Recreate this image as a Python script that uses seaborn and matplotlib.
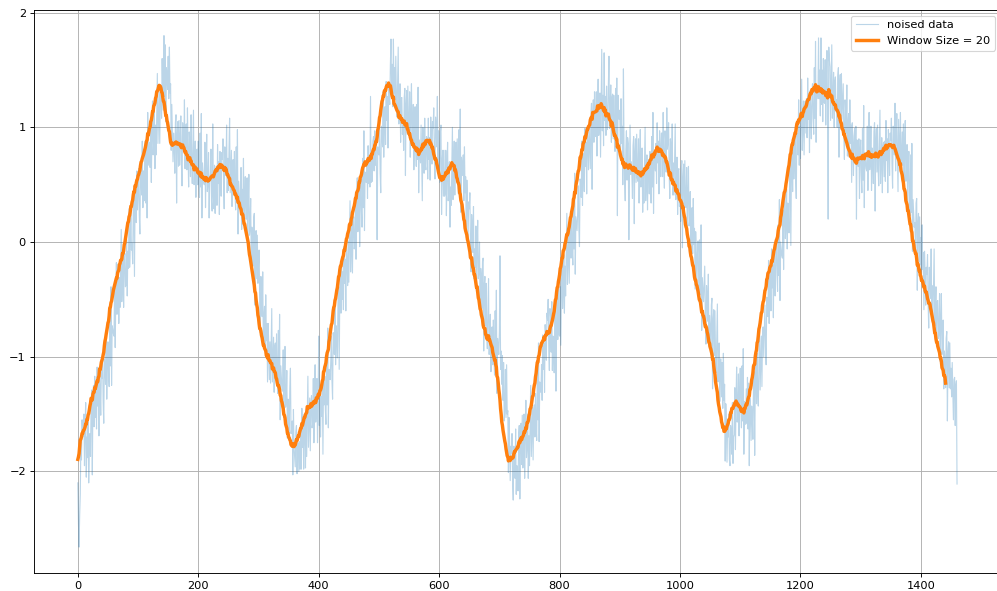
import numpy as np
import pandas as pd
import matplotlib
matplotlib.use("Agg")
import matplotlib.pyplot as plt
import seaborn as sns

WINDOW = 20

# daily observations (one value per day)
noised = [
    -2.10, -2.45, -2.66, -2.38, -2.20, -1.75, -1.90, -1.55, -1.70, -1.62,
    -1.50, -1.95, -1.62, -1.40, -2.05, -1.70, -1.88, -1.55, -2.10, -1.84,
    -1.67, -1.87, -1.39, -1.29, -2.03, -1.39, -1.25, -1.61, -1.17, -1.53,
    -1.29, -1.63, -1.09, -1.43, -1.23, -1.69, -1.13, -1.27, -1.51, -1.13,
    -1.19, -0.99, -1.39, -1.58, -1.02, -1.08, -1.24, -0.78, -1.37, -1.05,
    -0.87, -1.15, -1.26, -0.66, -1.08, -0.39, -1.25, -0.73, -0.76, -0.80,
    -0.82, -0.40, -0.92, -0.48, -0.18, -0.63, -0.51, -0.19, -0.71, -0.31,
    -0.57, -0.20, 0.11, -0.52, -0.33, -0.10, -0.57, -0.16, -0.10, -0.39,
    -0.37, 0.02, -0.47, -0.08, -0.23, 0.29, -0.22, -0.03, 0.26, -0.07,
    -0.01, -0.19, 0.30, 0.42, -0.30, 0.35, 0.51, 0.17, 0.62, 0.28,
    0.44, 0.64, 0.24, 0.07, 0.63, 0.57, 0.41, 0.88, 0.30, 0.62,
    0.36, 0.70, 0.88, 0.34, 0.82, 0.21, 1.13, 0.67, 0.77, 0.87,
    0.65, 1.06, 0.52, 0.95, 1.23, 0.76, 0.87, 1.17, 0.64, 1.02,
    0.76, 1.15, 1.47, 0.86, 1.07, 1.31, 0.86, 1.29, 1.35, 1.08,
    1.60, 1.30, 1.15, 1.80, 1.27, 1.72, 1.05, 1.52, 1.45, 1.33,
    1.62, 1.25, 1.70, 1.30, 1.38, 0.80, 1.20, 0.95, 0.70, 0.95,
    0.83, 0.60, 1.04, 1.11, 0.34, 0.94, 1.05, 0.66, 1.06, 0.67,
    0.91, 1.10, 0.68, 0.49, 1.04, 0.96, 0.79, 1.24, 0.64, 0.95,
    1.03, 0.63, 1.17, 0.76, 0.48, 0.96, 0.86, 0.57, 1.11, 0.73,
    0.51, 0.86, 1.15, 0.50, 0.67, 0.88, 0.39, 0.78, 0.81, 0.50,
    0.88, 0.56, 0.39, 0.95, 0.48, 1.12, 0.21, 0.69, 0.60, 0.52,
    0.50, 0.87, 0.30, 0.69, 0.94, 0.44, 0.51, 0.78, 0.21, 0.56,
    0.59, 0.81, 0.35, 0.27, 1.03, 0.41, 0.29, 0.67, 0.25, 0.62,
    0.66, 0.32, 0.85, 0.51, 0.70, 0.24, 0.79, 0.65, 0.40, 0.78,
    0.72, 0.90, 0.49, 0.29, 0.83, 0.76, 0.58, 1.02, 0.43, 0.73,
    0.45, 0.80, 1.08, 0.43, 0.60, 0.80, 0.31, 0.70, 0.72, 0.41,
    0.79, 0.46, 0.28, 0.83, 0.35, 0.98, 0.07, 0.53, 0.44, 0.34,
    0.30, 0.65, 0.11, 0.46, 0.27, 0.73, 0.18, 0.33, 0.57, 0.20,
    0.20, 0.56, -0.03, 0.35, 0.59, 0.06, 0.12, 0.38, -0.21, 0.13,
    0.05, -0.21, 0.21, 0.25, -0.55, 0.02, 0.10, -0.32, 0.06, -0.36,
    -0.20, -0.07, -0.54, -0.79, -0.30, -0.42, -0.65, -0.26, -0.91, -0.66,
    -0.56, -0.95, -0.46, -0.86, -0.71, -1.22, -0.71, -0.90, -1.20, -0.87,
    -1.23, -0.88, -0.58, -1.22, -1.04, -0.83, -1.31, -0.91, -0.88, -1.18,
    -0.80, -1.14, -1.32, -0.77, -1.25, -0.63, -1.55, -1.08, -1.18, -1.28,
    -1.30, -0.94, -1.53, -1.15, -0.91, -1.44, -1.38, -1.12, -1.71, -1.37,
    -1.45, -1.66, -1.27, -1.10, -1.67, -1.63, -1.56, -2.03, -1.46, -1.79,
    -1.88, -1.96, -1.66, -1.60, -2.02, -1.76, -1.75, -2.00, -1.74, -1.98,
    -1.64, -1.98, -1.45, -1.79, -1.59, -1.98, -1.50, -1.64, -1.97, -1.51,
    -1.87, -1.49, -1.17, -1.79, -1.59, -1.36, -1.82, -1.40, -1.34, -1.62,
    -1.58, -1.19, -1.75, -1.34, -1.07, -1.57, -1.48, -1.19, -1.75, -1.38,
    -0.82, -1.60, -1.30, -1.70, -1.35, -1.52, -1.25, -1.85, -1.18, -1.42,
    -1.17, -1.46, -1.59, -0.99, -1.42, -0.75, -1.62, -1.11, -1.15, -1.20,
    -1.04, -0.82, -1.21, -1.37, -0.79, -0.84, -0.98, -0.50, -1.07, -0.73,
    -0.83, -1.01, -0.51, -0.39, -1.11, -0.44, -0.28, -0.62, -0.16, -0.50,
    -0.26, -0.59, -0.04, -0.36, -0.15, -0.60, -0.03, -0.16, -0.38, 0.01,
    -0.35, 0.03, 0.36, -0.26, -0.06, 0.19, -0.27, 0.15, 0.22, -0.06,
    -0.02, 0.39, -0.15, 0.28, 0.56, 0.09, 0.19, 0.50, -0.04, 0.35,
    0.55, 0.26, 0.13, 0.73, 0.30, 0.97, 0.10, 0.61, 0.57, 0.52,
    0.72, 0.38, 0.84, 0.51, 0.72, 0.48, 1.27, 0.52, 0.77, 0.53,
    0.88, 0.92, 0.62, 0.97, 0.67, 0.90, 0.60, 0.02, 0.83, 0.77,
    0.76, 0.98, 0.60, 0.43, 1.01, 0.97, 0.83, 1.31, 0.74, 1.08,
    1.18, 0.85, 1.40, 1.06, 1.27, 0.82, 1.39, 1.26, 1.20, 1.55,
    1.77, 1.32, 1.55, 1.18, 1.77, 1.30, 1.52, 1.24, 1.62, 1.26,
    1.09, 1.42, 1.70, 1.03, 1.19, 1.38, 0.87, 1.25, 1.26, 0.94,
    1.04, 0.80, 1.26, 1.34, 0.58, 1.20, 1.32, 0.94, 1.36, 0.98,
    0.94, 1.31, 0.74, 1.13, 1.38, 0.86, 0.93, 1.20, 0.63, 0.98,
    1.18, 0.84, 0.66, 1.20, 0.72, 1.35, 0.43, 0.89, 0.79, 0.69,
    1.02, 0.66, 0.36, 1.00, 0.82, 0.60, 1.08, 0.67, 0.63, 0.92,
    0.90, 0.55, 1.08, 0.72, 0.91, 0.54, 1.09, 0.93, 0.68, 1.05,
    0.99, 1.17, 0.75, 0.55, 1.09, 1.01, 0.83, 1.27, 0.67, 0.97,
    0.76, 0.52, 0.96, 1.02, 0.24, 0.70, 0.80, 0.40, 0.80, 0.40,
    0.43, 0.80, 0.23, 0.62, 0.87, 0.36, 0.43, 0.70, 0.13, 0.48,
    0.32, 0.69, 1.00, 0.37, 0.66, 0.88, 0.41, 0.82, 0.87, 0.58,
    0.90, 0.58, 0.42, 0.98, 0.52, 1.16, 0.26, 0.74, 0.66, 0.58,
    0.76, 0.36, 0.83, 0.43, 0.57, 0.04, 0.54, 0.34, 0.03, 0.35,
    0.29, 0.43, -0.02, -0.26, 0.24, 0.13, -0.09, 0.31, -0.32, -0.06,
    -0.22, 0.14, -0.43, -0.05, 0.19, -0.32, -0.26, 0.00, -0.57, -0.23,
    -0.31, -0.58, -0.17, -0.14, -0.95, -0.37, -0.30, -0.73, -0.36, -0.79,
    -0.93, -0.59, -0.32, -0.98, -0.83, -0.63, -1.13, -0.76, -0.74, -1.07,
    -0.68, -1.00, -1.16, -0.60, -1.06, -0.42, -1.32, -0.84, -0.92, -0.98,
    -0.78, -0.12, -1.11, -0.95, -1.24, -0.99, -1.38, -1.05, -1.56, -1.47,
    -1.11, -1.53, -1.07, -1.50, -1.47, -2.01, -1.53, -1.76, -2.08, -1.78,
    -1.84, -1.67, -2.10, -2.25, -1.78, -1.87, -2.06, -1.63, -2.20, -1.95,
    -1.96, -2.17, -1.69, -1.60, -2.24, -1.71, -1.58, -1.94, -1.51, -1.97,
    -1.89, -1.50, -2.06, -1.65, -1.38, -1.88, -1.79, -1.50, -2.06, -1.69,
    -1.95, -1.57, -1.25, -1.87, -1.67, -1.44, -1.90, -1.48, -1.42, -1.70,
    -1.32, -1.60, -1.73, -1.13, -1.55, -0.88, -1.74, -1.22, -1.27, -1.31,
    -1.07, -1.38, -0.81, -1.11, -0.88, -1.31, -0.72, -0.82, -1.03, -0.62,
    -0.68, -0.50, -0.92, -1.12, -0.58, -0.66, -0.96, -0.52, -1.12, -0.82,
    -0.93, -1.14, -0.68, -0.59, -1.30, -0.72, -0.48, -0.85, -0.41, -0.80,
    -0.82, -0.39, -0.90, -0.44, -0.13, -0.58, -0.45, -0.11, -0.62, -0.21,
    -0.47, -0.08, 0.25, -0.37, -0.16, 0.09, -0.36, 0.06, 0.13, -0.14,
    0.24, -0.06, -0.20, 0.38, -0.06, 0.60, -0.28, 0.22, 0.16, 0.10,
    0.26, 0.49, 0.12, -0.04, 0.55, 0.52, 0.39, 0.88, 0.32, 0.67,
    0.77, 0.44, 0.99, 0.66, 0.87, 0.42, 0.99, 0.86, 0.63, 1.02,
    0.84, 0.64, 1.11, 1.21, 0.46, 1.10, 1.24, 0.87, 1.31, 0.94,
    0.92, 1.31, 0.75, 1.16, 1.42, 0.93, 1.01, 1.30, 0.74, 1.18,
    1.68, 0.97, 1.28, 0.84, 1.65, 1.06, 1.27, 0.93, 1.36, 0.98,
    1.01, 1.36, 1.62, 0.99, 1.16, 1.37, 0.87, 1.26, 1.29, 0.90,
    1.28, 0.95, 0.79, 1.34, 0.88, 1.43, 0.23, 1.28, 1.10, 1.07,
    1.15, 0.76, 1.25, 0.86, 1.01, 0.50, 1.51, 0.82, 0.53, 0.36,
    0.80, 0.97, 0.54, 0.91, 0.86, 0.02, 0.59, 1.02, 0.59, 0.70,
    0.60, 0.38, 0.84, 0.92, 0.16, 0.78, 0.90, 0.52, 0.94, 0.56,
    0.53, 0.90, 0.34, 0.73, 0.98, 0.48, 0.55, 0.82, 0.26, 0.61,
    0.34, 0.70, 1.00, 0.36, 0.54, 0.76, 0.28, 0.68, 0.72, 0.42,
    0.79, 0.49, 0.34, 0.92, 0.48, 1.13, 0.25, 0.75, 0.68, 0.62,
    0.86, 0.51, 1.04, 0.69, 0.88, 0.42, 0.97, 0.82, 0.57, 0.95,
    0.95, 0.57, 1.13, 0.73, 0.47, 0.97, 0.89, 0.61, 1.17, 0.81,
    0.88, 1.04, 0.60, 0.38, 0.90, 0.81, 0.61, 1.03, 0.41, 0.69,
    0.41, 0.75, 1.03, 0.37, 0.53, 0.74, 0.24, 0.62, 0.64, 0.31,
    0.41, 0.18, 0.64, 0.71, -0.05, 0.56, 0.68, 0.29, 0.71, 0.32,
    0.30, 0.65, 0.06, 0.43, 0.66, 0.14, 0.19, 0.44, -0.15, 0.18,
    0.30, -0.10, 0.38, -0.02, 0.12, -0.41, 0.09, -0.11, -0.41, -0.09,
    0.01, -0.33, -0.52, 0.02, -0.46, 0.15, -0.77, -0.31, -0.42, -0.52,
    -0.36, -0.21, -0.66, -0.89, -0.38, -0.48, -0.69, -0.28, -0.91, -0.64,
    -0.74, -0.98, -0.55, -0.49, -1.28, -0.68, -0.59, -0.99, -0.60, -1.00,
    -1.14, -0.81, -0.54, -1.22, -1.07, -0.88, -1.39, -1.02, -1.02, -1.35,
    -1.05, -1.45, -0.97, -1.38, -1.24, -1.91, -1.41, -1.61, -1.92, -1.60,
    -1.70, -1.50, -1.90, -1.95, -1.60, -1.66, -1.85, -1.40, -1.93, -1.70,
    -1.68, -1.27, -1.81, -1.38, -1.09, -1.57, -1.46, -1.15, -1.69, -1.30,
    -1.10, -1.44, -1.62, -1.08, -1.56, -0.93, -1.85, -1.39, -1.49, -1.59,
    -1.28, -1.58, -1.18, -1.63, -1.23, -1.95, -1.36, -1.43, -1.73, -1.43,
    -1.53, -1.72, -1.23, -1.13, -1.86, -1.21, -1.06, -1.41, -0.97, -1.32,
    -1.43, -1.03, -0.69, -1.29, -1.07, -0.82, -1.26, -0.82, -0.74, -1.00,
    -0.78, -0.55, -0.92, -1.07, -0.48, -0.52, -0.65, -0.16, -0.71, -0.36,
    -0.26, -0.60, -0.06, -0.40, -0.20, -0.66, -0.10, -0.23, -0.47, -0.09,
    0.01, -0.29, -0.43, 0.15, -0.29, 0.37, -0.51, 0.00, -0.06, -0.12,
    -0.14, 0.28, -0.24, 0.19, 0.49, 0.03, 0.15, 0.46, -0.06, 0.34,
    0.26, 0.08, 0.57, 0.69, -0.03, 0.62, 0.78, 0.44, 0.89, 0.55,
    0.71, 0.93, 0.54, 0.38, 0.95, 0.91, 0.76, 1.24, 0.67, 1.01,
    0.73, 1.11, 1.42, 0.80, 0.99, 1.23, 0.76, 1.18, 1.23, 0.95,
    1.25, 0.91, 1.43, 1.07, 1.25, 0.78, 1.32, 1.16, 0.90, 1.28,
    1.38, 1.08, 0.94, 1.52, 1.08, 1.75, 0.87, 1.37, 1.31, 1.25,
    1.78, 1.25, 1.50, 1.10, 1.78, 1.20, 1.50, 1.05, 1.60, 1.22,
    1.21, 1.59, 1.02, 1.42, 1.67, 1.17, 0.20, 1.70, 1.59, 1.53,
    1.06, 1.42, 1.72, 1.08, 1.26, 1.48, 1.00, 1.40, 1.44, 1.14,
    1.24, 1.00, 1.45, 1.52, 0.74, 1.35, 1.46, 1.06, 1.47, 1.07,
    1.22, 1.38, 0.94, 0.72, 1.24, 1.15, 0.95, 1.37, 0.75, 1.03,
    1.12, 0.74, 1.24, 0.86, 1.02, 0.52, 1.04, 0.86, 0.58, 0.92,
    0.99, 0.68, 1.01, 0.20, 0.89, 0.82, 0.66, 0.90, 0.38, 0.77,
    0.89, 0.58, 0.43, 0.99, 0.54, 1.19, 0.30, 0.78, 0.71, 0.64,
    0.62, 1.01, 0.45, 0.86, 1.13, 0.63, 0.72, 1.01, 0.45, 0.82,
    0.74, 0.51, 0.96, 1.04, 0.27, 0.88, 0.99, 0.61, 1.02, 0.63,
    0.49, 0.85, 1.15, 0.51, 0.69, 0.91, 0.43, 0.83, 0.87, 0.57,
    0.88, 0.53, 1.06, 0.71, 0.90, 0.43, 0.98, 0.83, 0.58, 0.95,
    0.89, 1.08, 0.67, 0.47, 1.01, 0.94, 0.76, 1.21, 0.62, 0.92,
    1.12, 0.75, 0.44, 1.07, 0.88, 0.66, 1.13, 0.72, 0.67, 0.96,
    0.67, 1.03, 0.44, 0.82, 1.06, 0.53, 0.59, 0.85, 0.26, 0.60,
    0.79, 0.43, 0.23, 0.76, 0.26, 0.86, -0.08, 0.37, 0.25, 0.13,
    0.17, -0.09, 0.34, 0.38, -0.42, 0.17, 0.25, -0.17, 0.22, -0.20,
    0.04, -0.35, 0.15, -0.24, -0.09, -0.59, -0.08, -0.26, -0.55, -0.22,
    -0.28, -0.11, -0.54, -0.75, -0.22, -0.30, -0.49, -0.06, -0.67, -0.38,
    -0.67, -0.34, -0.06, -0.73, -0.58, -0.39, -0.89, -0.52, -0.51, -0.84,
    -0.80, -0.45, -1.04, -0.68, -0.45, -0.98, -0.93, -0.68, -1.28, -0.95,
    -1.03, -1.27, -0.84, -0.78, -1.56, -0.97, -0.87, -1.27, -0.88, -1.28,
    -1.10, -1.35, -1.05, -1.28, -1.55, -1.20, -1.18, -1.60, -1.25, -1.21,
    -2.11,
]

series_labels = ["noised data", f"Window Size = {WINDOW}"]

raw = pd.DataFrame({"day": np.arange(len(noised)), "value": noised})
# moving average over the window, re-indexed from zero
rolled = (
    raw["value"].rolling(WINDOW).mean().dropna().reset_index(drop=True)
)
smooth = pd.DataFrame({"day": np.arange(len(rolled)), "value": rolled.values})

DPI = 82
fig = plt.figure(figsize=(997 / DPI, 591 / DPI), dpi=DPI)
ax = fig.add_axes([0.034, 0.031, 0.970, 0.952])

sns.lineplot(data=raw, x="day", y="value", ax=ax, color="tab:blue",
             alpha=0.3, linewidth=1.0, label=series_labels[0],
             errorbar=None, sort=False)
sns.lineplot(data=smooth, x="day", y="value", ax=ax, color="tab:orange",
             linewidth=3.0, label=series_labels[1],
             errorbar=None, sort=False)

ax.set_xlabel("")
ax.set_ylabel("")
ax.grid(True)
ax.legend(loc="upper right")

fig.savefig("out.png", dpi=DPI)
